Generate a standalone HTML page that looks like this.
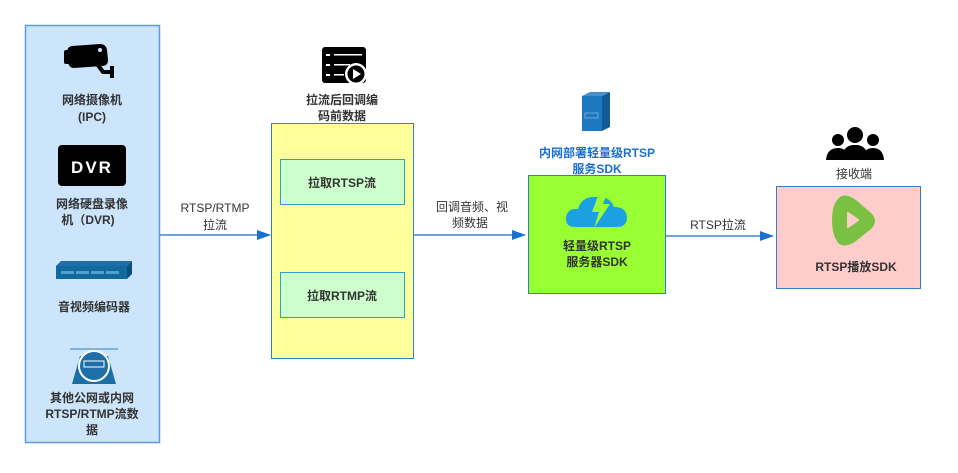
<!DOCTYPE html>
<html><head><meta charset="utf-8"><style>
html,body{margin:0;padding:0;background:#fff;}
svg text{font-family:"Liberation Sans","Noto Sans CJK SC",sans-serif;}
</style></head><body>
<svg width="958" height="468" viewBox="0 0 958 468" xmlns="http://www.w3.org/2000/svg">
<defs><marker id="a" markerWidth="14" markerHeight="10" refX="13" refY="5" orient="auto" markerUnits="userSpaceOnUse"><path d="M0,0 L14,5 L0,10 Z" fill="#1a6fd1"/></marker></defs>
<rect x="25.5" y="25.5" width="134" height="417" fill="#cce5fb" stroke="#5a9be0" stroke-width="1.5"/>
<g fill="#000">
<path d="M68,53 Q66,47 72,46 L100,44 Q106,44 107,50 L108,60 Q108,66 102,66 L74,68 Q69,68 68,62 Z"/>
<rect x="64" y="50" width="6" height="14" rx="2"/>
<path d="M100,64 L104,70 L110,70 L110,66 L114,66 L114,78 L110,78 L110,74 L102,74 L96,66Z"/>
</g>
<circle cx="100" cy="50" r="2" fill="#cce5fb"/>
<text x="92" y="104" font-size="12" font-weight="bold" text-anchor="middle" fill="#333">网络摄像机</text>
<text x="92" y="121" font-size="12" font-weight="bold" text-anchor="middle" fill="#333">(IPC)</text>
<rect x="58" y="145" width="68" height="41" rx="4" fill="#000"/>
<text x="92" y="173" font-size="17" font-weight="bold" text-anchor="middle" fill="#fff" letter-spacing="2">DVR</text>
<text x="92" y="208" font-size="12" font-weight="bold" text-anchor="middle" fill="#333">网络硬盘录像</text>
<text x="88" y="224" font-size="12" font-weight="bold" text-anchor="middle" fill="#333">机（DVR)</text>
<path d="M56,266 L127,266 L132,261 L61,261 Z" fill="#1e6fa8"/><rect x="56" y="266" width="71" height="13" fill="#126a9c"/><path d="M127,266 L132,261 L132,274 L127,279Z" fill="#0c4f78"/>
<g fill="#4f9fd1"><rect x="61" y="271" width="13" height="3"/><rect x="76" y="271" width="13" height="3"/><rect x="91" y="271" width="13" height="3"/><rect x="106" y="271" width="13" height="3"/></g>
<text x="94" y="311" font-size="12" font-weight="bold" text-anchor="middle" fill="#333">音视频编码器</text>
<line x1="70" y1="349" x2="118" y2="349" stroke="#2e7fb8"/>
<path d="M72,384 L80,356 L108,356 L116,384Z" fill="#1a6fa5"/><circle cx="94" cy="366" r="15" fill="#1e6fa8" stroke="#fff" stroke-width="2"/><rect x="84" y="361" width="20" height="6" fill="none" stroke="#fff"/>
<text x="92" y="402" font-size="12" font-weight="bold" text-anchor="middle" fill="#333">其他公网或内网</text>
<text x="92" y="418" font-size="12" font-weight="bold" text-anchor="middle" fill="#333">RTSP/RTMP流数</text>
<text x="92" y="434" font-size="12" font-weight="bold" text-anchor="middle" fill="#333">据</text>
<line x1="160" y1="235" x2="270" y2="235" stroke="#1a6fd1" stroke-width="1.2" marker-end="url(#a)"/>
<text x="215" y="212" font-size="12" text-anchor="middle" fill="#333">RTSP/RTMP</text>
<text x="215" y="229" font-size="12" text-anchor="middle" fill="#333">拉流</text>
<rect x="322" y="47" width="44" height="36" rx="3" fill="#000"/>
<g fill="#fff"><rect x="326" y="54" width="4" height="2"/><rect x="334" y="54" width="28" height="1.5"/><rect x="326" y="64" width="4" height="2"/><rect x="334" y="64" width="16" height="1.5"/><rect x="326" y="74" width="4" height="2"/><rect x="334" y="74" width="10" height="1.5"/></g>
<circle cx="356" cy="74" r="11" fill="#fff"/><circle cx="356" cy="74" r="8.5" fill="#000"/><path d="M353,69 L361,74 L353,79Z" fill="#fff"/>
<text x="342" y="104" font-size="12" font-weight="bold" text-anchor="middle" fill="#333">拉流后回调编</text>
<text x="342" y="120" font-size="12" font-weight="bold" text-anchor="middle" fill="#333">码前数据</text>
<rect x="271.5" y="123.5" width="142" height="235" fill="#ffff99" stroke="#2f7fd0"/>
<rect x="280.5" y="159.5" width="124" height="45" fill="#ccffcc" stroke="#2f9fd0"/>
<text x="342" y="187" font-size="12" font-weight="bold" text-anchor="middle" fill="#333">拉取RTSP流</text>
<rect x="280.5" y="272.5" width="124" height="45" fill="#ccffcc" stroke="#2f9fd0"/>
<text x="342" y="300" font-size="12" font-weight="bold" text-anchor="middle" fill="#333">拉取RTMP流</text>
<line x1="414" y1="235" x2="525" y2="235" stroke="#1a6fd1" stroke-width="1.2" marker-end="url(#a)"/>
<text x="472" y="211" font-size="12" text-anchor="middle" fill="#333">回调音频、视</text>
<text x="470" y="227" font-size="12" text-anchor="middle" fill="#333">频数据</text>
<path d="M582,96 L602,96 L610,92 L590,92Z" fill="#4a8ec9"/><rect x="582" y="96" width="20" height="35" fill="#1e78c0"/><path d="M602,96 L610,92 L610,127 L602,131Z" fill="#135a95"/><rect x="585" y="113" width="13" height="5" fill="none" stroke="#7fb5e0" stroke-width="0.8"/>
<text x="597" y="157" font-size="12" font-weight="bold" text-anchor="middle" fill="#1a6fd1">内网部署轻量级RTSP</text>
<text x="597" y="173" font-size="12" font-weight="bold" text-anchor="middle" fill="#1a6fd1">服务SDK</text>
<rect x="528.5" y="175.5" width="137" height="118" fill="#99ff33" stroke="#2f7fd0"/>
<path d="M575,227 Q565,227 566,217 Q568,208 578,209 Q582,196 596,197 Q610,196 614,207 Q626,207 627,217 Q627,227 617,227Z" fill="#1ba1e2"/>
<path d="M601,188 L592,212 L599,212 L594,228 L610,204 L603,204 L609,188Z" fill="#99ff33"/>
<text x="597" y="250" font-size="12" font-weight="bold" text-anchor="middle" fill="#333">轻量级RTSP</text>
<text x="597" y="266" font-size="12" font-weight="bold" text-anchor="middle" fill="#333">服务器SDK</text>
<line x1="666" y1="236" x2="773" y2="236" stroke="#1a6fd1" stroke-width="1.2" marker-end="url(#a)"/>
<text x="718" y="229" font-size="12" text-anchor="middle" fill="#333">RTSP拉流</text>
<g fill="#000">
<circle cx="855" cy="135" r="8"/><path d="M841,160 Q843,144 855,145 Q867,144 869,160Z"/>
<circle cx="838" cy="140" r="6"/><path d="M826,160 Q827,148 838,148 Q846,148 847,155 L842,160Z"/>
<circle cx="873" cy="140" r="6"/><path d="M884,160 Q883,148 873,148 Q865,148 864,155 L868,160Z"/>
</g>
<text x="854" y="178" font-size="12" text-anchor="middle" fill="#333">接收端</text>
<rect x="776.5" y="186.5" width="144" height="102" fill="#ffcccc" stroke="#2f7fd0"/>
<path d="M840,197 Q846,193 856,200 L871,213 Q879,221 871,229 L856,241 Q846,248 839,244 Q832,236 832,220 Q832,203 840,197Z" fill="#7ac143"/>
<path d="M848,213 L858,220 L848,227 Z" fill="#ffcccc" stroke="#ffcccc" stroke-width="2" stroke-linejoin="round"/>
<text x="856" y="271" font-size="12" font-weight="bold" text-anchor="middle" fill="#333">RTSP播放SDK</text>
</svg>
</body></html>
